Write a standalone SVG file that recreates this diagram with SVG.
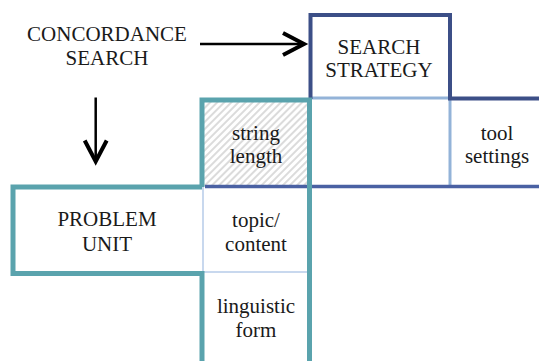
<svg xmlns="http://www.w3.org/2000/svg" width="539" height="361" viewBox="0 0 539 361">
<style>
text{font-family:"Liberation Serif","Times New Roman",serif;font-size:21px;fill:#1a1a1a;text-anchor:middle}
.teal{fill:none;stroke:#5aa3ad;stroke-width:5}
.navy{fill:none;stroke:#3c4f87;stroke-width:4}
.navy2{fill:none;stroke:#4a61a3;stroke-width:3.5}
.lb{fill:none;stroke:#93b3d8;stroke-width:3}
.vlb{fill:none;stroke:#c8d8ee;stroke-width:2}
.arr{fill:none;stroke:#000;stroke-width:2.5}
</style>
<defs>
<pattern id="hatch" patternUnits="userSpaceOnUse" width="5" height="5" patternTransform="rotate(45)">
<line x1="1" y1="0" x2="1" y2="5" stroke="#d2d2d2" stroke-width="1.6"/>
</pattern>
<marker id="chev" markerUnits="userSpaceOnUse" viewBox="-26 -14 30 28" refX="0" refY="0" markerWidth="30" markerHeight="28" orient="auto" overflow="visible">
<path d="M-21,-11 L0,0 L-21,11" fill="none" stroke="#000" stroke-width="4"/>
</marker>
</defs>

<g id="concordance-search">
<text x="107" y="41">CONCORDANCE</text>
<text x="107" y="64.5">SEARCH</text>
</g>

<g id="empty-cell">
<rect x="311" y="99" width="139" height="87" fill="#fff"/>
</g>

<g id="string-length">
<rect x="204" y="102" width="104" height="84" fill="url(#hatch)"/>
<text x="256" y="139.5">string</text>
<text x="256" y="163">length</text>
</g>

<g id="tool-settings">
<path class="lb" d="M450,98 V186"/>
<text x="497" y="139.5">tool</text>
<text x="497" y="163">settings</text>
</g>

<g id="search-strategy">
<path class="lb" d="M311,98 H450"/>
<path class="navy" d="M310.5,99 V15 H450 V98.5 H539"/>
<text x="379" y="53.5">SEARCH</text>
<text x="379" y="77">STRATEGY</text>
</g>

<g id="topic-content">
<path class="vlb" d="M203,187 V272 H308"/>
<text x="256" y="227">topic/</text>
<text x="256" y="251">content</text>
</g>

<g id="strategy-base">
<path class="navy2" d="M205,186.5 H539"/>
</g>

<g id="linguistic-form">
<text x="256" y="313">linguistic</text>
<text x="256" y="337">form</text>
</g>

<g id="problem-unit">
<path class="teal" d="M202,187 V100 H309.5 V361 M202,361 V273.5 H13 V187 H202"/>
<text x="107" y="226">PROBLEM</text>
<text x="107" y="250.5">UNIT</text>
</g>

<g id="connectors">
<path class="arr" d="M200,44 H304" marker-end="url(#chev)"/>
<path class="arr" d="M95.7,97.5 V161.5" marker-end="url(#chev)"/>
</g>
</svg>
